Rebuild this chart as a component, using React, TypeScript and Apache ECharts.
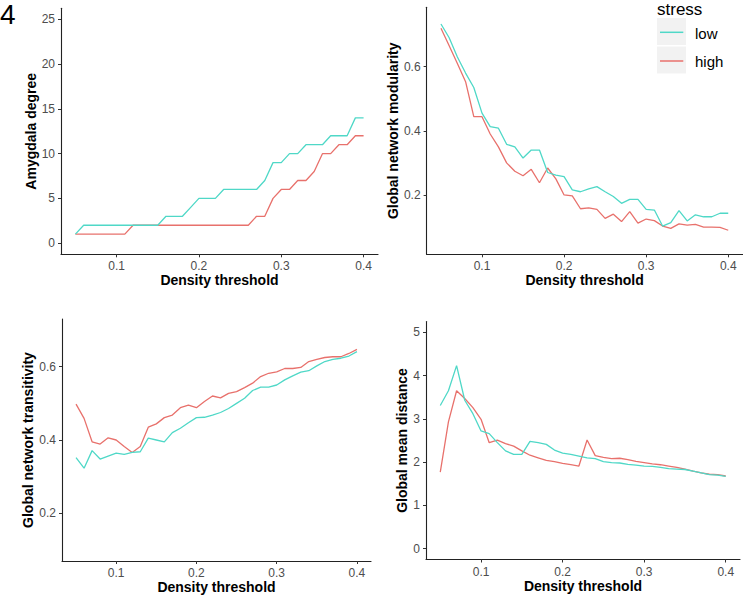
import React, { useEffect, useRef } from "react";
import * as echarts from "echarts";

const thresholds = [0.05, 0.06, 0.07, 0.08, 0.09, 0.10, 0.11, 0.12, 0.13, 0.14, 0.15, 0.16, 0.17, 0.18, 0.19, 0.20, 0.21, 0.22, 0.23, 0.24, 0.25, 0.26, 0.27, 0.28, 0.29, 0.30, 0.31, 0.32, 0.33, 0.34, 0.35, 0.36, 0.37, 0.38, 0.39, 0.40];

const degreeLow = [1, 2, 2, 2, 2, 2, 2, 2, 2, 2, 2, 3, 3, 3, 4, 5, 5, 5, 6, 6, 6, 6, 6, 7, 9, 9, 10, 10, 11, 11, 11, 12, 12, 12, 14, 14];
const degreeHigh = [1, 1, 1, 1, 1, 1, 1, 2, 2, 2, 2, 2, 2, 2, 2, 2, 2, 2, 2, 2, 2, 2, 3, 3, 5, 6, 6, 7, 7, 8, 10, 10, 11, 11, 12, 12];

const modularityLow = [0.733, 0.69, 0.63, 0.58, 0.535, 0.455, 0.413, 0.408, 0.358, 0.35, 0.315, 0.34, 0.34, 0.27, 0.262, 0.257, 0.216, 0.21, 0.219, 0.226, 0.21, 0.195, 0.174, 0.186, 0.186, 0.155, 0.153, 0.103, 0.114, 0.151, 0.119, 0.138, 0.132, 0.132, 0.143, 0.143];
const modularityHigh = [0.72, 0.665, 0.61, 0.553, 0.444, 0.444, 0.39, 0.35, 0.30, 0.274, 0.26, 0.28, 0.238, 0.284, 0.25, 0.2, 0.197, 0.157, 0.16, 0.155, 0.127, 0.14, 0.117, 0.148, 0.112, 0.125, 0.12, 0.103, 0.096, 0.11, 0.106, 0.108, 0.1, 0.1, 0.099, 0.09];

const transitivityLow = [0.352, 0.323, 0.371, 0.348, 0.356, 0.364, 0.361, 0.366, 0.368, 0.405, 0.4, 0.395, 0.42, 0.432, 0.447, 0.461, 0.462, 0.468, 0.475, 0.486, 0.5, 0.514, 0.535, 0.544, 0.544, 0.55, 0.564, 0.575, 0.585, 0.589, 0.602, 0.614, 0.62, 0.623, 0.629, 0.641];
const transitivityHigh = [0.498, 0.459, 0.395, 0.389, 0.406, 0.4, 0.382, 0.366, 0.382, 0.435, 0.444, 0.461, 0.468, 0.488, 0.495, 0.488, 0.505, 0.52, 0.515, 0.527, 0.532, 0.543, 0.555, 0.573, 0.582, 0.586, 0.595, 0.595, 0.598, 0.614, 0.62, 0.625, 0.627, 0.627, 0.636, 0.647];

const distanceLow = [3.31, 3.65, 4.23, 3.43, 3.12, 2.72, 2.66, 2.45, 2.26, 2.18, 2.18, 2.48, 2.45, 2.41, 2.28, 2.21, 2.18, 2.14, 2.1, 2.08, 2.01, 1.99, 1.98, 1.95, 1.93, 1.91, 1.9, 1.88, 1.85, 1.84, 1.83, 1.79, 1.75, 1.71, 1.7, 1.67];
const distanceHigh = [1.77, 2.93, 3.65, 3.47, 3.26, 2.99, 2.45, 2.51, 2.43, 2.37, 2.26, 2.16, 2.1, 2.04, 2.01, 1.97, 1.94, 1.91, 2.51, 2.15, 2.11, 2.08, 2.09, 2.06, 2.02, 1.99, 1.96, 1.94, 1.91, 1.88, 1.84, 1.79, 1.75, 1.72, 1.71, 1.68];

const xTicks = [0.1, 0.2, 0.3, 0.4];
const degreeTicks = [0, 5, 10, 15, 20, 25];
const modularityTicks = [0.2, 0.4, 0.6];
const transitivityTicks = [0.2, 0.4, 0.6];
const distanceTicks = [0, 1, 2, 3, 4, 5];

const xTitle = "Density threshold";
const yTitles = ["Amygdala degree", "Global network modularity", "Global network transitivity", "Global mean distance"];
const legendTitle = "stress";
const legendLabels = ["low", "high"];

const LOW_COLOR = "#4FD8C7";
const HIGH_COLOR = "#E8716C";
const FONT = "'Liberation Sans', Arial, sans-serif";

function pairs(ys: number[]) {
  return thresholds.map((x, i) => [x, ys[i]]);
}

export default function App() {
  const ref = useRef<HTMLDivElement>(null);
  useEffect(() => {
    if (!ref.current) return;
    const chart = echarts.init(ref.current, undefined, { renderer: "svg" });

    const grids = [
      { left: 61, top: 8.3, width: 317, height: 246 },
      { left: 426.6, top: 7.3, width: 316, height: 247 },
      { left: 62, top: 319, width: 309, height: 242 },
      { left: 426, top: 321.5, width: 314, height: 238 },
    ];
    const yRanges = [
      [-1.25, 26.25],
      [0.015, 0.785],
      [0.07, 0.73],
      [-0.25, 5.25],
    ];
    const yTickSets = [degreeTicks, modularityTicks, transitivityTicks, distanceTicks];
    const yNameGaps = [20, 25, 26, 12];
    const lowSets = [degreeLow, modularityLow, transitivityLow, distanceLow];
    const highSets = [degreeHigh, modularityHigh, transitivityHigh, distanceHigh];

    const axisLine = { show: true, onZero: false, lineStyle: { color: "#222", width: 1.1 } };
    const axisTickBase = { show: true, length: 3, lineStyle: { color: "#333", width: 1 } };
    const labelBase = { color: "#4D4D4D", fontSize: 12, fontFamily: FONT };
    const nameStyle = { color: "#000", fontSize: 14, fontWeight: "bold" as const, fontFamily: FONT };

    const series: any[] = [];
    for (let i = 0; i < 4; i++) {
      series.push({
        type: "line",
        xAxisIndex: i,
        yAxisIndex: i,
        data: pairs(highSets[i]),
        showSymbol: false,
        lineStyle: { color: HIGH_COLOR, width: 1.3 },
        itemStyle: { color: HIGH_COLOR },
        z: 2,
      });
      series.push({
        type: "line",
        xAxisIndex: i,
        yAxisIndex: i,
        data: pairs(lowSets[i]),
        showSymbol: false,
        lineStyle: { color: LOW_COLOR, width: 1.3 },
        itemStyle: { color: LOW_COLOR },
        z: 3,
      });
    }

    chart.setOption({
      animation: false,
      grid: grids.map((g) => ({ ...g, containLabel: false })),
      xAxis: grids.map((_, i) => ({
        type: "value",
        gridIndex: i,
        min: 0.0325,
        max: 0.4175,
        axisLine,
        axisTick: { ...axisTickBase, customValues: xTicks },
        axisLabel: { ...labelBase, margin: 6, customValues: xTicks, formatter: (v: number) => String(v) },
        splitLine: { show: false },
        name: xTitle,
        nameLocation: "middle",
        nameGap: 19,
        nameTextStyle: nameStyle,
      })),
      yAxis: grids.map((_, i) => ({
        type: "value",
        gridIndex: i,
        min: yRanges[i][0],
        max: yRanges[i][1],
        axisLine,
        axisTick: { ...axisTickBase, customValues: yTickSets[i] },
        axisLabel: { ...labelBase, margin: 6, customValues: yTickSets[i], formatter: (v: number) => String(v) },
        splitLine: { show: false },
        name: yTitles[i],
        nameLocation: "middle",
        nameGap: yNameGaps[i],
        nameTextStyle: nameStyle,
      })),
      series,
      graphic: [
        { type: "text", x: 0, y: 0, style: { text: "4", font: `28px ${FONT}`, lineHeight: 29, fill: "#000", textVerticalAlign: "top" } },
        { type: "text", x: 657, y: 0, style: { text: legendTitle, font: `17px ${FONT}`, lineHeight: 18, fill: "#000", textVerticalAlign: "top" } },
        { type: "rect", shape: { x: 657, y: 18, width: 29, height: 27 }, style: { fill: "#F2F2F2" } },
        { type: "rect", shape: { x: 657, y: 46.5, width: 29, height: 27 }, style: { fill: "#F2F2F2" } },
        { type: "line", shape: { x1: 660, y1: 32.3, x2: 683.3, y2: 32.3 }, style: { stroke: LOW_COLOR, lineWidth: 1.5 } },
        { type: "line", shape: { x1: 660, y1: 61, x2: 683.3, y2: 61 }, style: { stroke: HIGH_COLOR, lineWidth: 1.5 } },
        { type: "text", x: 695, y: 33.3, style: { text: legendLabels[0], font: `15px ${FONT}`, fill: "#000", textVerticalAlign: "middle" } },
        { type: "text", x: 695, y: 61.7, style: { text: legendLabels[1], font: `15px ${FONT}`, fill: "#000", textVerticalAlign: "middle" } },
      ],
    });
    return () => chart.dispose();
  }, []);
  return (
    <div
      ref={ref}
      style={{ position: "fixed", left: 0, top: 0, width: 743, height: 595, background: "#fff" }}
    />
  );
}
